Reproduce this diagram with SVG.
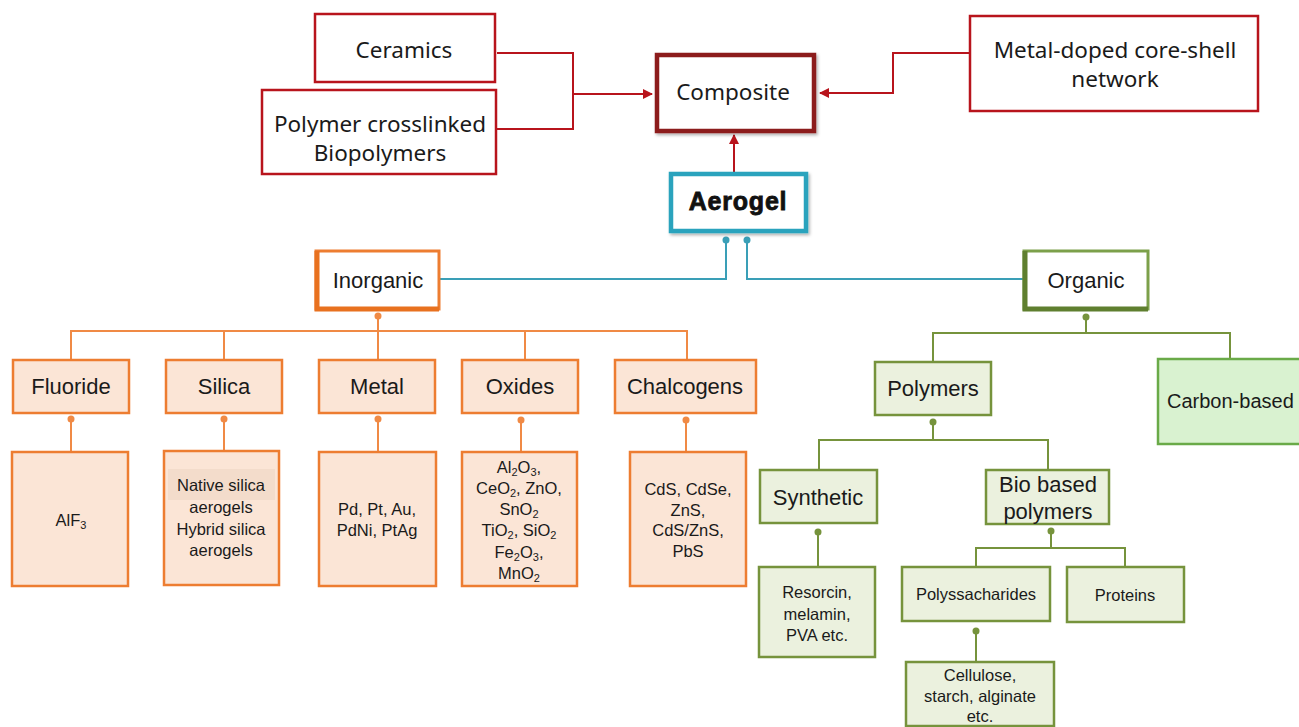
<svg xmlns="http://www.w3.org/2000/svg" width="1299" height="727" viewBox="0 0 1299 727">
<defs>
<style>
.top{font-family:"Noto Sans","Liberation Sans",sans-serif;font-size:22.5px;fill:#1a1a1a;text-anchor:middle}
.lab{font-family:"Liberation Sans",Arial,sans-serif;font-size:22px;fill:#1a1a1a;text-anchor:middle}
.sm{font-family:"Liberation Sans",Arial,sans-serif;font-size:16.5px;fill:#1a1a1a;text-anchor:middle}
.redbox{fill:#fff;stroke:#b8141c;stroke-width:2.5}
.obox{fill:#fbe5d6;stroke:#ed7d31;stroke-width:2.5}
.gbox{fill:#ebf1de;stroke:#76933c;stroke-width:2.5}
.rl{fill:none;stroke:#b8141c;stroke-width:2}
.tl{fill:none;stroke:#3a9fb7;stroke-width:2}
.ol{fill:none;stroke:#f08a45;stroke-width:2}
.gl{fill:none;stroke:#76933c;stroke-width:2}
</style>
<marker id="ar" viewBox="0 0 10 10" refX="9" refY="5" markerWidth="5" markerHeight="5" orient="auto-start-reverse"><path d="M0,0 L10,5 L0,10 z" fill="#b8141c"/></marker>
<filter id="sh" x="-10%" y="-10%" width="130%" height="130%"><feDropShadow dx="1.5" dy="2" stdDeviation="1.5" flood-color="#000" flood-opacity="0.3"/></filter>
</defs>

<g id="connectors">
<path class="rl" d="M497,53 H573 V129 H497"/>
<path class="rl" d="M573,94 H652" marker-end="url(#ar)"/>
<path class="rl" d="M969,53 H893 V93 H820" marker-end="url(#ar)"/>
<path class="rl" d="M734,172 V135" marker-end="url(#ar)"/>
<path class="tl" d="M726,240 V279 H440"/>
<path class="tl" d="M747,240 V279 H1023"/>
<circle cx="726" cy="240" r="3.5" fill="#3a9fb7"/>
<circle cx="747" cy="240" r="3.5" fill="#3a9fb7"/>
<path class="ol" d="M378,316 V331 M71,360 V331 H687 V360 M224,331 V360 M378,331 V360 M525,331 V360"/>
<circle cx="378" cy="316" r="3.5" fill="#f08a45"/>
<path class="ol" d="M71,419 V452 M224,419 V450 M378,419 V452 M521,419 V452 M686,419 V452"/>
<circle cx="71" cy="419" r="3.5" fill="#f08a45"/>
<circle cx="224" cy="419" r="3.5" fill="#f08a45"/>
<circle cx="378" cy="419" r="3.5" fill="#f08a45"/>
<circle cx="521" cy="420" r="3.5" fill="#f08a45"/>
<circle cx="686" cy="420" r="3.5" fill="#f08a45"/>
<path class="gl" d="M1086,317 V333 M933,362 V333 H1230 V359"/>
<circle cx="1086" cy="317" r="3.5" fill="#76933c"/>
<path class="gl" d="M933,422 V440 M819,470 V440 H1048 V470"/>
<circle cx="933" cy="422" r="3.5" fill="#76933c"/>
<path class="gl" d="M818,532 V567"/>
<circle cx="818" cy="532" r="3.5" fill="#76933c"/>
<path class="gl" d="M1051,531 V548 M976,567 V548 H1125 V567"/>
<circle cx="1051" cy="531" r="3.5" fill="#76933c"/>
<path class="gl" d="M976,631 V662"/>
<circle cx="976" cy="631" r="3.5" fill="#76933c"/>
</g>

<g id="ceramics">
<rect class="redbox" x="315" y="14" width="180" height="68"/>
<text class="top" x="404" y="58">Ceramics</text>
</g>
<g id="polymer-crosslinked">
<rect class="redbox" x="262" y="90" width="234" height="84"/>
<text class="top" x="380" y="132">Polymer crosslinked</text>
<text class="top" x="380" y="161">Biopolymers</text>
</g>
<g id="composite">
<rect x="657" y="55" width="157" height="76" fill="#fff" stroke="#8c1a1a" stroke-width="4.5" filter="url(#sh)"/>
<text class="top" x="733" y="100">Composite</text>
</g>
<g id="metal-doped">
<rect class="redbox" x="970" y="16" width="288" height="95"/>
<text class="top" x="1115" y="58">Metal-doped core-shell</text>
<text class="top" x="1115" y="87">network</text>
</g>
<g id="aerogel">
<rect x="671" y="174" width="135" height="57" fill="#fff" stroke="#2ba3bd" stroke-width="4.5" filter="url(#sh)"/>
<text x="738" y="210" font-family="Liberation Sans,Arial,sans-serif" font-size="25" font-weight="bold" letter-spacing="0.8" stroke="#111" stroke-width="0.8" fill="#111" text-anchor="middle">Aerogel</text>
</g>

<g id="inorganic">
<rect x="316" y="251" width="123" height="58" fill="#fff" stroke="#ed7d31" stroke-width="3"/>
<path d="M317,251 V309 H439" fill="none" stroke="#e8711f" stroke-width="5"/>
<text class="lab" x="378" y="288">Inorganic</text>
</g>
<g id="organic">
<rect x="1024" y="251" width="124" height="58" fill="#fff" stroke="#7ca04a" stroke-width="3"/>
<path d="M1025,251 V309 H1148" fill="none" stroke="#5f7f2f" stroke-width="5"/>
<text class="lab" x="1086" y="288">Organic</text>
</g>

<g id="fluoride"><rect class="obox" x="13" y="360" width="116" height="53"/><text class="lab" x="71" y="394">Fluoride</text></g>
<g id="silica"><rect class="obox" x="166" y="360" width="116" height="53"/><text class="lab" x="224" y="394">Silica</text></g>
<g id="metal"><rect class="obox" x="319" y="360" width="116" height="53"/><text class="lab" x="377" y="394">Metal</text></g>
<g id="oxides"><rect class="obox" x="462" y="360" width="116" height="53"/><text class="lab" x="520" y="394">Oxides</text></g>
<g id="chalcogens"><rect class="obox" x="615" y="360" width="141" height="53"/><text class="lab" x="685" y="394">Chalcogens</text></g>

<g id="alf3"><rect class="obox" x="12" y="452" width="116" height="134"/><text class="sm" x="71" y="526">AlF<tspan font-size="11" dy="3">3</tspan></text></g>
<g id="silica-types"><rect class="obox" x="164" y="451" width="115" height="134"/>
<rect x="168" y="469" width="107" height="31" fill="#f3dccb"/>
<text class="sm" x="221" y="491">Native silica</text>
<text class="sm" x="221" y="513">aerogels</text>
<text class="sm" x="221" y="535">Hybrid silica</text>
<text class="sm" x="221" y="556">aerogels</text></g>
<g id="metal-types"><rect class="obox" x="319" y="452" width="117" height="134"/>
<text class="sm" x="377" y="515">Pd, Pt, Au,</text>
<text class="sm" x="377" y="536">PdNi, PtAg</text></g>
<g id="oxide-types"><rect class="obox" x="462" y="452" width="115" height="134"/>
<text class="sm" x="519" y="473">Al<tspan font-size="11" dy="3">2</tspan><tspan dy="-3">O</tspan><tspan font-size="11" dy="3">3</tspan><tspan dy="-3">,</tspan></text>
<text class="sm" x="519" y="494">CeO<tspan font-size="11" dy="3">2</tspan><tspan dy="-3">, ZnO,</tspan></text>
<text class="sm" x="519" y="515">SnO<tspan font-size="11" dy="3">2</tspan></text>
<text class="sm" x="519" y="536">TiO<tspan font-size="11" dy="3">2</tspan><tspan dy="-3">, SiO</tspan><tspan font-size="11" dy="3">2</tspan></text>
<text class="sm" x="519" y="558">Fe<tspan font-size="11" dy="3">2</tspan><tspan dy="-3">O</tspan><tspan font-size="11" dy="3">3</tspan><tspan dy="-3">,</tspan></text>
<text class="sm" x="519" y="579">MnO<tspan font-size="11" dy="3">2</tspan></text></g>
<g id="chalcogen-types"><rect class="obox" x="630" y="452" width="116" height="134"/>
<text class="sm" x="688" y="495">CdS, CdSe,</text>
<text class="sm" x="688" y="516">ZnS,</text>
<text class="sm" x="688" y="536">CdS/ZnS,</text>
<text class="sm" x="688" y="557">PbS</text></g>

<g id="polymers"><rect class="gbox" x="875" y="362" width="116" height="53"/><text class="lab" x="933" y="396">Polymers</text></g>
<g id="carbon-based"><rect x="1158" y="359" width="150" height="85" fill="#d9f2d0" stroke="#6aaa48" stroke-width="2.5"/><text x="1167" y="408" font-family="Liberation Sans,Arial,sans-serif" font-size="20" fill="#1a1a1a">Carbon-based</text></g>
<g id="synthetic"><rect class="gbox" x="760" y="470" width="117" height="53"/><text class="lab" x="818" y="505">Synthetic</text></g>
<g id="bio-based"><rect class="gbox" x="986" y="470" width="123" height="54"/><text class="lab" x="1048" y="492">Bio based</text><text class="lab" x="1048" y="519">polymers</text></g>
<g id="synthetic-types"><rect class="gbox" x="759" y="567" width="116" height="90"/>
<text class="sm" x="817" y="598">Resorcin,</text>
<text class="sm" x="817" y="620">melamin,</text>
<text class="sm" x="817" y="641">PVA etc.</text></g>
<g id="polyssacharides"><rect class="gbox" x="902" y="567" width="148" height="54"/><text class="sm" x="976" y="600">Polyssacharides</text></g>
<g id="proteins"><rect class="gbox" x="1067" y="567" width="117" height="55"/><text class="sm" x="1125" y="601">Proteins</text></g>
<g id="cellulose"><rect class="gbox" x="906" y="662" width="148" height="64"/>
<text class="sm" x="980" y="681">Cellulose,</text>
<text class="sm" x="980" y="702">starch, alginate</text>
<text class="sm" x="980" y="722">etc.</text></g>
</svg>
